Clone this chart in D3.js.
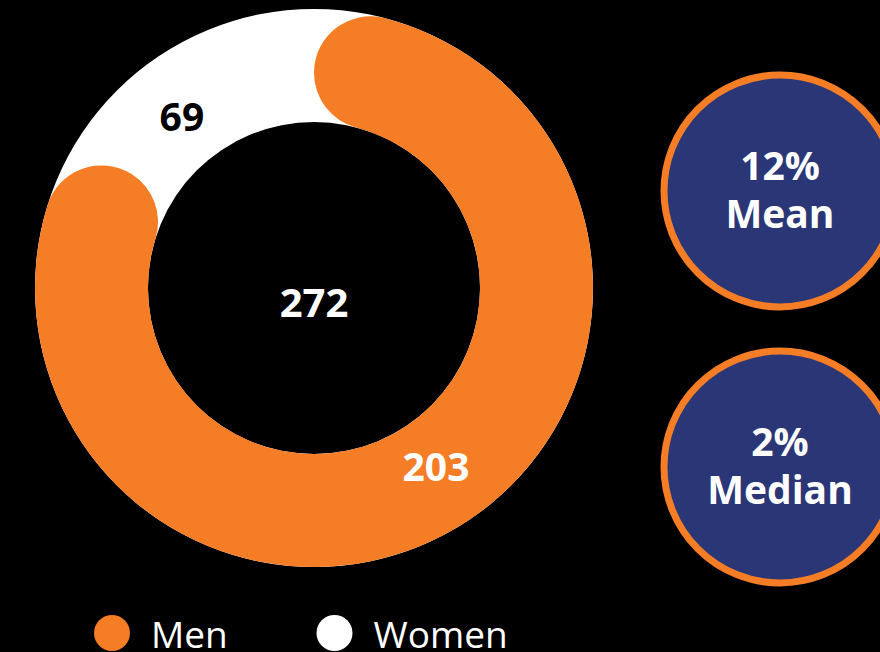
<!DOCTYPE html>
<html>
<head>
<meta charset="utf-8">
<script src="https://cdn.jsdelivr.net/npm/d3@7"></script>
<style>
  html, body { margin: 0; padding: 0; background: #000; }
  svg { display: block; }
</style>
</head>
<body>
<svg id="chart" width="880" height="652"></svg>
<script>
// ---- data ----
const categories = ["Men", "Women"];
const values = [203, 69];
const statValues = ["12%", "2%"];
const statLabels = ["Mean", "Median"];

// ---- styles / layout ----
const W = 880, H = 652;
const ORANGE = "#F47D25", WHITE = "#FFFFFF", BLUE = "#2A3676";
const colors = [ORANGE, WHITE];
const labelColors = [WHITE, "#000000"];
const FONT = "'Open Sans', 'Noto Sans', sans-serif";
const cx = 314, cy = 288, rOuter = 279, rInner = 166;
const SWEEP = 2 * Math.PI * 1.124;   // angular range the values are laid out over
const labelAngles = [145.7, 322.4].map(d => d * Math.PI / 180);

const svg = d3.select("#chart");
svg.append("rect").attr("width", W).attr("height", H).attr("fill", "#000");

const g = svg.append("g").attr("transform", `translate(${cx},${cy})`);

const total = d3.sum(values);
const angle = d3.scaleLinear().domain([0, total]).range([0, SWEEP]);

const arc = d3.arc().innerRadius(rInner).outerRadius(rOuter);
const roundArc = d3.arc().innerRadius(rInner).outerRadius(rOuter)
  .cornerRadius((rOuter - rInner) / 2);

// white track (women) full ring
g.append("path")
  .attr("d", arc({startAngle: 0, endAngle: 2 * Math.PI}))
  .attr("fill", colors[1]);

// men arc with rounded ends
g.append("path")
  .attr("d", roundArc({startAngle: angle(0), endAngle: angle(values[0])}))
  .attr("fill", colors[0]);

// value labels
const rMid = (rInner + rOuter) / 2 - 6;
g.selectAll("text.val")
  .data(values)
  .join("text")
  .attr("class", "val")
  .attr("x", (d, i) => rMid * Math.sin(labelAngles[i]))
  .attr("y", (d, i) => -rMid * Math.cos(labelAngles[i]))
  .attr("dy", "0.36em")
  .attr("text-anchor", "middle")
  .attr("font-family", FONT)
  .attr("font-weight", 700)
  .attr("font-size", 39)
  .attr("fill", (d, i) => labelColors[i])
  .text(d => d);

// total in centre
g.append("text")
  .attr("x", 0).attr("y", 29)
  .attr("text-anchor", "middle")
  .attr("font-family", FONT)
  .attr("font-weight", 700)
  .attr("font-size", 40)
  .attr("fill", WHITE)
  .text(total);

// stat circles
const statCY = [191, 467];
const sg = svg.selectAll("g.stat")
  .data(statValues)
  .join("g")
  .attr("class", "stat")
  .attr("transform", (d, i) => `translate(780,${statCY[i]})`);

sg.append("circle")
  .attr("r", 116)
  .attr("fill", BLUE)
  .attr("stroke", ORANGE)
  .attr("stroke-width", 7);

sg.append("text")
  .attr("y", -11)
  .attr("text-anchor", "middle")
  .attr("font-family", FONT)
  .attr("font-weight", 700)
  .attr("font-size", 39)
  .attr("fill", WHITE)
  .text(d => d);

sg.append("text")
  .attr("y", 37)
  .attr("text-anchor", "middle")
  .attr("font-family", FONT)
  .attr("font-weight", 700)
  .attr("font-size", 39)
  .attr("fill", WHITE)
  .text((d, i) => statLabels[i]);

// legend
const legX = [112, 334.5];
const lg = svg.selectAll("g.leg")
  .data(categories)
  .join("g")
  .attr("class", "leg")
  .attr("transform", (d, i) => `translate(${legX[i]},633)`);

lg.append("circle").attr("r", 18).attr("fill", (d, i) => colors[i]);
lg.append("text")
  .attr("x", 39)
  .attr("y", 15)
  .attr("font-family", FONT)
  .attr("font-size", 37)
  .attr("fill", WHITE)
  .text(d => d);
</script>
</body>
</html>
